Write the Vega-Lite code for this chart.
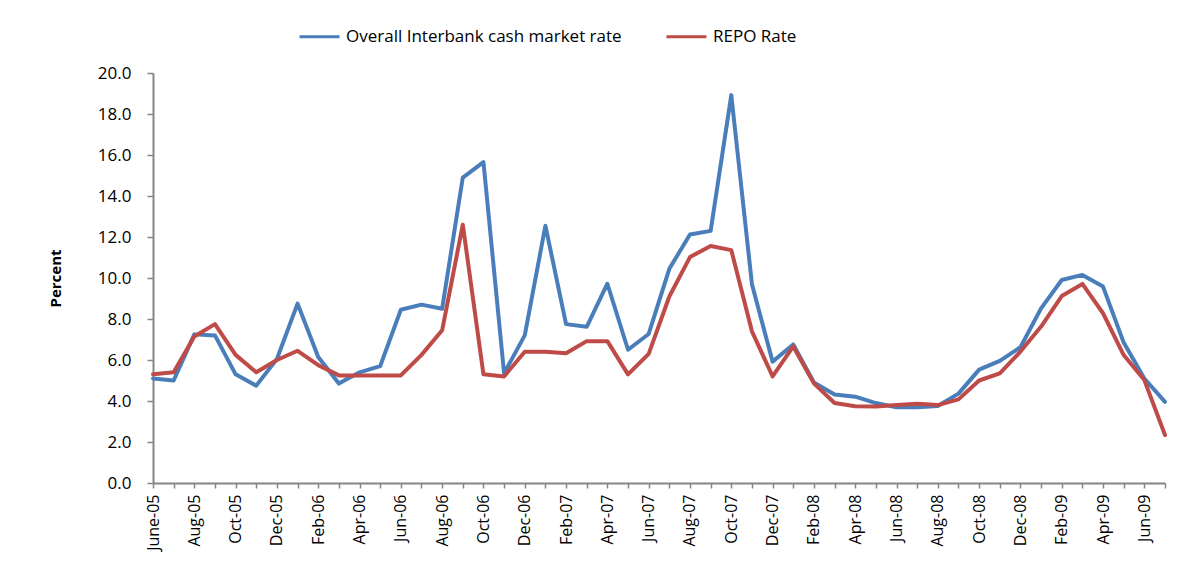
{
  "$schema": "https://vega.github.io/schema/vega-lite/v6.json",
  "width": 1012,
  "height": 410,
  "autosize": "none",
  "padding": {"left": 153, "top": 73, "right": 25, "bottom": 100},
  "background": "white",
  "config": {"view": {"stroke": null}, "font": "Open Sans"},
  "datasets": {
    "rates": [
      {"month": "June-05", "b": 5.1, "r": 5.3},
      {"month": "Jul-05", "b": 5.0, "r": 5.4},
      {"month": "Aug-05", "b": 7.25, "r": 7.15},
      {"month": "Sep-05", "b": 7.2, "r": 7.75},
      {"month": "Oct-05", "b": 5.3, "r": 6.25},
      {"month": "Nov-05", "b": 4.75, "r": 5.4},
      {"month": "Dec-05", "b": 6.05, "r": 6.0},
      {"month": "Jan-06", "b": 8.75, "r": 6.45},
      {"month": "Feb-06", "b": 6.15, "r": 5.75},
      {"month": "Mar-06", "b": 4.85, "r": 5.25},
      {"month": "Apr-06", "b": 5.4, "r": 5.25},
      {"month": "May-06", "b": 5.7, "r": 5.25},
      {"month": "Jun-06", "b": 8.45, "r": 5.25},
      {"month": "Jul-06", "b": 8.7, "r": 6.25},
      {"month": "Aug-06", "b": 8.5, "r": 7.45},
      {"month": "Sep-06", "b": 14.9, "r": 12.6},
      {"month": "Oct-06", "b": 15.65, "r": 5.3},
      {"month": "Nov-06", "b": 5.35, "r": 5.2},
      {"month": "Dec-06", "b": 7.2, "r": 6.4},
      {"month": "Jan-07", "b": 12.55, "r": 6.4},
      {"month": "Feb-07", "b": 7.75, "r": 6.33},
      {"month": "Mar-07", "b": 7.62, "r": 6.92},
      {"month": "Apr-07", "b": 9.72, "r": 6.92},
      {"month": "May-07", "b": 6.5, "r": 5.3},
      {"month": "Jun-07", "b": 7.27, "r": 6.3},
      {"month": "Jul-07", "b": 10.45, "r": 9.1},
      {"month": "Aug-07", "b": 12.12, "r": 11.02},
      {"month": "Sep-07", "b": 12.3, "r": 11.56},
      {"month": "Oct-07", "b": 18.92, "r": 11.36},
      {"month": "Nov-07", "b": 9.7, "r": 7.4},
      {"month": "Dec-07", "b": 5.92, "r": 5.2},
      {"month": "Jan-08", "b": 6.76, "r": 6.66},
      {"month": "Feb-08", "b": 4.9, "r": 4.86},
      {"month": "Mar-08", "b": 4.32, "r": 3.9},
      {"month": "Apr-08", "b": 4.21, "r": 3.74},
      {"month": "May-08", "b": 3.9, "r": 3.73},
      {"month": "Jun-08", "b": 3.69, "r": 3.8},
      {"month": "Jul-08", "b": 3.69, "r": 3.87},
      {"month": "Aug-08", "b": 3.76, "r": 3.8},
      {"month": "Sep-08", "b": 4.36, "r": 4.08},
      {"month": "Oct-08", "b": 5.53, "r": 5.0},
      {"month": "Nov-08", "b": 5.96, "r": 5.35},
      {"month": "Dec-08", "b": 6.62, "r": 6.41},
      {"month": "Jan-09", "b": 8.52, "r": 7.63},
      {"month": "Feb-09", "b": 9.9, "r": 9.12},
      {"month": "Mar-09", "b": 10.15, "r": 9.71},
      {"month": "Apr-09", "b": 9.58, "r": 8.28},
      {"month": "May-09", "b": 6.85, "r": 6.24},
      {"month": "Jun-09", "b": 5.1, "r": 5.02},
      {"month": "Jul-09", "b": 3.96, "r": 2.34}
    ]
  },
  "data": {"name": "rates"},
  "transform": [
    {"fold": ["b", "r"], "as": ["key", "value"]},
    {"calculate": "datum.key === 'b' ? 'Overall Interbank cash market rate' : 'REPO Rate'", "as": "series"}
  ],
  "mark": {"type": "line", "strokeWidth": 4, "strokeJoin": "round", "strokeCap": "round"},
  "encoding": {
    "x": {
      "field": "month",
      "type": "ordinal",
      "sort": null,
      "scale": {"type": "point", "padding": 0},
      "axis": {
        "title": null,
        "labelAngle": -90,
        "labelAlign": "right",
        "labelBaseline": "middle",
        "labelFontSize": 16,
        "labelColor": "#000000",
        "labelPadding": 6,
        "labelExpr": "test(/^(Jul|Sep|Nov|Jan|Mar|May)/, datum.value) ? '' : datum.value",
        "labelOverlap": false,
        "domainColor": "#868686",
        "domainWidth": 2,
        "tickColor": "#868686",
        "tickWidth": 1.5,
        "tickSize": 5,
        "grid": false
      }
    },
    "y": {
      "field": "value",
      "type": "quantitative",
      "scale": {"domain": [0, 20], "nice": false},
      "axis": {
        "title": "Percent",
        "titleFont": "Open Sans",
        "titleFontSize": 15,
        "titleFontWeight": "bold",
        "titleColor": "#000000",
        "titlePadding": 34,
        "values": [0, 2, 4, 6, 8, 10, 12, 14, 16, 18, 20],
        "format": ".1f",
        "labelFontSize": 17,
        "labelColor": "#000000",
        "labelPadding": 16,
        "domainColor": "#868686",
        "domainWidth": 2,
        "tickColor": "#868686",
        "tickWidth": 1.5,
        "tickSize": 6,
        "grid": false
      }
    },
    "color": {
      "field": "series",
      "type": "nominal",
      "scale": {
        "domain": ["Overall Interbank cash market rate", "REPO Rate"],
        "range": ["#4A7EBB", "#BE4B48"]
      },
      "legend": {
        "title": null,
        "orient": "none",
        "direction": "horizontal",
        "legendX": 145,
        "legendY": -58,
        "symbolType": "stroke",
        "symbolSize": 1600,
        "symbolStrokeWidth": 3,
        "labelFontSize": 17,
        "labelColor": "#000000",
        "labelLimit": 400,
        "columnPadding": 38,
        "labelOffset": 5
      }
    }
  }
}
